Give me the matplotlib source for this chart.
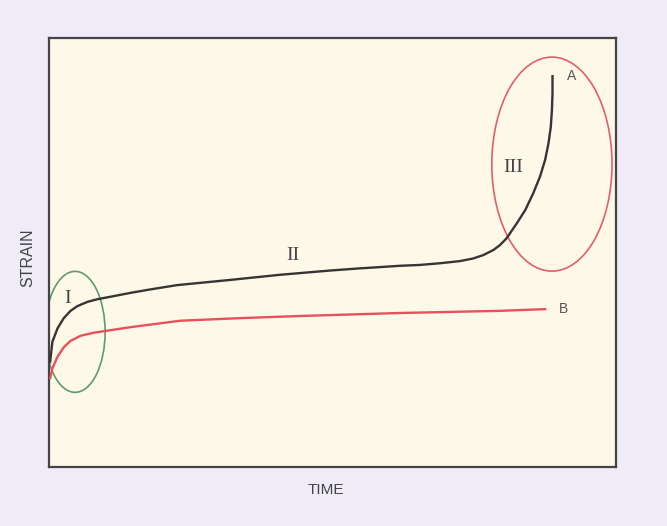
import matplotlib.pyplot as plt
from matplotlib.patches import Ellipse

# curve A (creep with tertiary stage)
time_a = [0.02, 0.06, 0.15, 0.26, 0.38, 0.50, 0.68, 0.85, 1.09, 1.44, 1.79, 2.26,
          3.19, 4.07, 4.96, 5.48, 5.84, 6.19, 6.54, 6.90, 7.25, 7.48, 7.66, 7.84,
          7.95, 8.07, 8.25, 8.40, 8.54, 8.66, 8.75, 8.81, 8.85, 8.87, 8.88, 8.88]
strain_a = [2.45, 2.92, 3.23, 3.47, 3.64, 3.75, 3.85, 3.91, 3.97, 4.06, 4.14, 4.24,
            4.36, 4.48, 4.58, 4.63, 4.66, 4.69, 4.71, 4.75, 4.80, 4.86, 4.94, 5.06,
            5.17, 5.33, 5.68, 5.99, 6.38, 6.77, 7.16, 7.55, 7.93, 8.32, 8.71, 9.11]

# curve B (no tertiary stage)
time_b = [0.02, 0.06, 0.15, 0.26, 0.38, 0.56, 0.79, 1.09, 1.44, 1.85, 2.32, 3.37,
          4.43, 6.19, 7.95, 8.75]
strain_b = [2.07, 2.30, 2.57, 2.79, 2.94, 3.06, 3.13, 3.19, 3.26, 3.33, 3.41, 3.47,
            3.52, 3.59, 3.64, 3.68]

# stage regions: (label, centre time, centre strain, width, height, colour)
stages = [
    ('I', 0.46, 3.15, 1.06, 2.82, '#5f9c6c'),
    ('III', 8.87, 7.06, 2.12, 4.99, '#e0606a'),
]
stage_labels = [('I', 0.32, 3.92), ('II', 4.30, 4.94), ('III', 8.18, 6.99)]
curve_labels = [('A', 9.21, 9.11), ('B', 9.07, 3.68)]

fig = plt.figure(figsize=(6.67, 5.26), dpi=100)
fig.patch.set_facecolor('#efebf8')
ax = fig.add_axes([49 / 667, 1 - 467 / 526, 567 / 667, 429 / 526])
ax.set_facecolor('#fdf8e8')

ax.plot(time_a, strain_a, color='#353535', lw=1.7, solid_joinstyle='round', zorder=3)
ax.plot(time_b, strain_b, color='#e8505c', lw=1.7, solid_joinstyle='round', zorder=3)

for name, cx, cy, w, h, col in stages:
    ax.add_patch(Ellipse((cx, cy), w, h, fill=False, edgecolor=col, lw=1.2, zorder=2))

for txt, x, y in stage_labels:
    ax.text(x, y, txt, family='Liberation Serif', fontsize=14, color='#444444',
            ha='center', va='center')
for txt, x, y in curve_labels:
    ax.text(x, y, txt, family='Liberation Sans', fontsize=10, color='#555555',
            ha='center', va='center')

ax.set_xlim(0, 10)
ax.set_ylim(0, 10)
ax.set_xticks([])
ax.set_yticks([])
for sp in ax.spines.values():
    sp.set_color('#444444')
    sp.set_linewidth(1.6)

fig.text(326 / 667, 1 - 490 / 526, 'TIME', family='Liberation Sans', fontsize=11,
         color='#444444', ha='center', va='center')
fig.text(28 / 667, 1 - 258 / 526, 'STRAIN', family='Liberation Sans', fontsize=11.5,
         color='#444444', ha='center', va='center', rotation=90)

fig.savefig('out.png', dpi=100, facecolor=fig.get_facecolor())
